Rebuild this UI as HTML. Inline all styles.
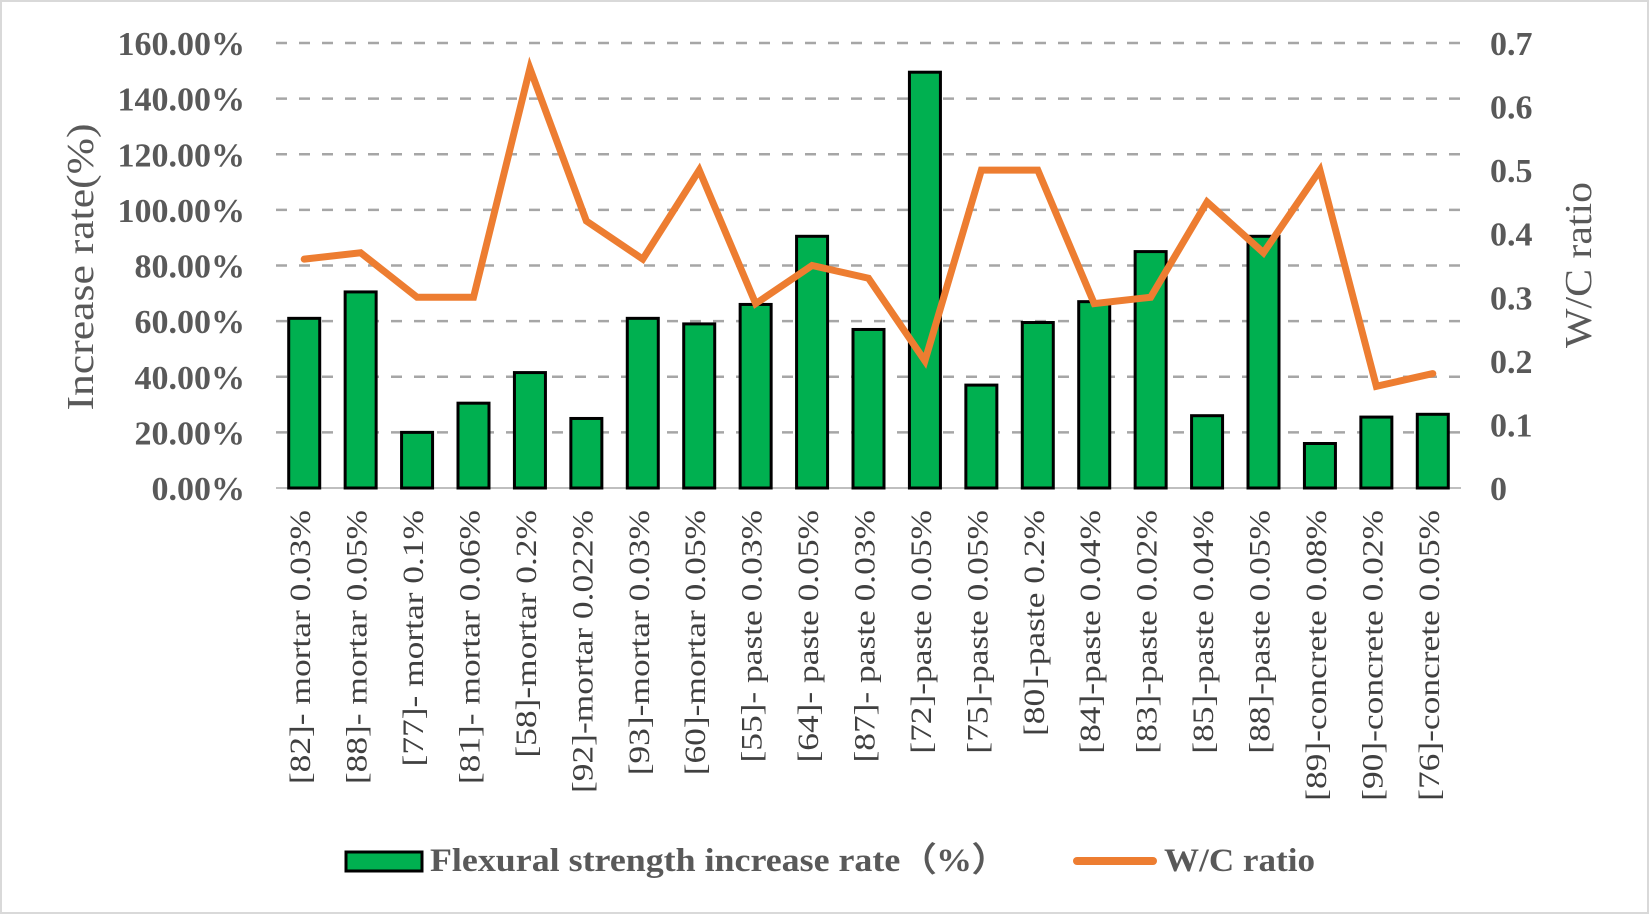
<!DOCTYPE html>
<html><head><meta charset="utf-8"><style>
html,body{margin:0;padding:0;background:#fff;}
svg{display:block;font-family:"Liberation Serif",serif;}
</style></head><body>
<svg id="chart" width="1650" height="915" viewBox="0 0 1650 915">
<rect x="1" y="1" width="1647" height="912" fill="#fff" stroke="#d9d9d9" stroke-width="2"/>
<g id="grid"></g>
<g id="bars"></g>
<g id="line"></g>
<g id="yticks"></g>
<g id="y2ticks"></g>
<g id="xlabels"></g>
<text x="0" y="0" transform="translate(93,267) rotate(-90)" text-anchor="middle" font-size="38" fill="#595959" textLength="287" lengthAdjust="spacingAndGlyphs">Increase rate(%)</text>
<text x="0" y="0" transform="translate(1591,265) rotate(-90)" text-anchor="middle" font-size="38" fill="#595959" textLength="166" lengthAdjust="spacingAndGlyphs">W/C ratio</text>
<g>
<rect x="346" y="852" width="76" height="19" fill="#00b050" stroke="#000" stroke-width="3"/>
<text x="430" y="871" font-size="33" font-weight="bold" fill="#595959" textLength="578" lengthAdjust="spacingAndGlyphs">Flexural strength increase rate（%）</text>
<line x1="1077" y1="861" x2="1153" y2="861" stroke="#ed7d31" stroke-width="8" stroke-linecap="round"/>
<text x="1164" y="871" font-size="33" font-weight="bold" fill="#595959" textLength="151" lengthAdjust="spacingAndGlyphs">W/C ratio</text>
</g>
</svg>
<script>
const categories = ["[82]- mortar 0.03%","[88]- mortar 0.05%","[77]- mortar 0.1%","[81]- mortar 0.06%","[58]-mortar 0.2%","[92]-mortar 0.022%","[93]-mortar 0.03%","[60]-mortar 0.05%","[55]- paste 0.03%","[64]- paste 0.05%","[87]- paste 0.03%","[72]-paste 0.05%","[75]-paste 0.05%","[80]-paste 0.2%","[84]-paste 0.04%","[83]-paste 0.02%","[85]-paste 0.04%","[88]-paste 0.05%","[89]-concrete 0.08%","[90]-concrete 0.02%","[76]-concrete 0.05%"];
const increaseRate = [61,70.5,20,30.5,41.5,25,61,59,66,90.5,57,149.5,37,59.5,67,85,26,90.5,16,25.5,26.5];
const wcRatio = [0.36,0.37,0.30,0.30,0.66,0.42,0.36,0.50,0.29,0.35,0.33,0.20,0.50,0.50,0.29,0.30,0.45,0.37,0.50,0.16,0.18];
const leftTicks = ["0.00%","20.00%","40.00%","60.00%","80.00%","100.00%","120.00%","140.00%","160.00%"];
const rightTicks = ["0","0.1","0.2","0.3","0.4","0.5","0.6","0.7"];

const NS="http://www.w3.org/2000/svg";
const X0=276,X1=1461,Y0=488,Y1=43;
const step=(X1-X0)/categories.length;
const xc=i=>X0+step*(i+0.5);
const yL=v=>Y0-(v/160)*(Y0-Y1);
const yR=v=>Y0-(v/0.7)*(Y0-Y1);
function mk(tag,attrs,parent){const e=document.createElementNS(NS,tag);for(const k in attrs)e.setAttribute(k,attrs[k]);parent.appendChild(e);return e;}
const grid=document.getElementById('grid');
leftTicks.forEach((t,i)=>{
  const v=i*20,y=yL(v);
  if(i>0){const l=mk('line',{x1:X0,x2:X1,y1:y,y2:y,stroke:'#a6a6a6','stroke-width':2.5,'stroke-dasharray':'11 12'},grid);
  
  }
  const tx=mk('text',{x:245,y:y+12,'text-anchor':'end','font-size':34,'font-weight':'bold',fill:'#595959'},document.getElementById('yticks'));
  tx.textContent=t;
  
  
});
const ax=mk('line',{x1:X0,x2:X1,y1:Y0,y2:Y0,stroke:'#bfbfbf','stroke-width':2},grid);


rightTicks.forEach((t,i)=>{
  const y=yR(i*0.1);
  const tx=mk('text',{x:1490,y:y+12,'font-size':34,'font-weight':'bold',fill:'#595959'},document.getElementById('y2ticks'));
  tx.textContent=t;
  
  
});
const bw=31;
increaseRate.forEach((v,i)=>{
  const r=mk('rect',{x:xc(i)-bw/2,y:yL(v),width:bw,height:Y0-yL(v),fill:'#00b050',stroke:'#000','stroke-width':3},document.getElementById('bars'));
  
  
});
const pts=wcRatio.map((v,i)=>xc(i)+','+yR(v)).join(' ');
const pl=mk('polyline',{points:pts,fill:'none',stroke:'#ed7d31','stroke-width':7,'stroke-linejoin':'miter','stroke-linecap':'round'},document.getElementById('line'));


categories.forEach((c,i)=>{
  const t=mk('text',{x:0,y:0,transform:`translate(${xc(i)+6},510) rotate(-90) scale(1.18,1)`,'text-anchor':'end','font-size':30,fill:'#404040'},document.getElementById('xlabels'));
  t.textContent=c;
  
  
});
</script>
</body></html>
